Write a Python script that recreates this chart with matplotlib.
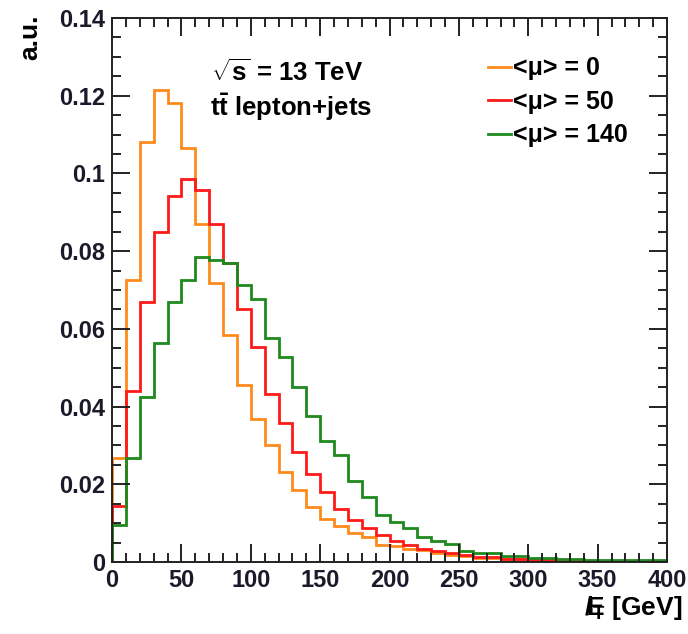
import numpy as np
import matplotlib
matplotlib.use("Agg")
import matplotlib.pyplot as plt
from matplotlib.ticker import MultipleLocator, FixedLocator, FixedFormatter

plt.rcParams['font.family'] = ['Liberation Sans', 'DejaVu Sans']
plt.rcParams['font.weight'] = 'bold'
plt.rcParams['mathtext.fontset'] = 'custom'
plt.rcParams['mathtext.rm'] = 'Liberation Sans:bold'
plt.rcParams['mathtext.it'] = 'Liberation Sans:bold'
plt.rcParams['mathtext.bf'] = 'Liberation Sans:bold'

# ビンの境界 (10 GeV 刻み, 0-400 GeV)
bin_edges = np.arange(0, 410, 10)

# <mu> = 0
mu0 = [0.0267, 0.0727, 0.108, 0.1215, 0.118, 0.1065, 0.087, 0.0719, 0.0584, 0.0455,
       0.0367, 0.0301, 0.0232, 0.0185, 0.0142, 0.011, 0.0093, 0.0074, 0.0065, 0.0044,
       0.0041, 0.0033, 0.0030, 0.0023, 0.0019, 0.0016, 0.0011, 0.0011, 0.0007, 0.0007,
       0.0004, 0.0003, 0.0003, 0.0002, 0.0002, 0.0001, 0.0001, 0.0001, 0.0001, 0.0]
# <mu> = 50
mu50 = [0.0145, 0.0441, 0.067, 0.085, 0.0942, 0.0985, 0.0957, 0.087, 0.077, 0.065,
        0.0554, 0.0432, 0.0357, 0.0284, 0.0226, 0.0181, 0.0136, 0.0108, 0.0087, 0.0069,
        0.0055, 0.0044, 0.0033, 0.0029, 0.0022, 0.0018, 0.0013, 0.0013, 0.0009, 0.0009,
        0.0005, 0.0005, 0.0003, 0.0003, 0.0002, 0.0003, 0.0001, 0.0001, 0.0001, 0.0001]
# <mu> = 140
mu140 = [0.0095, 0.0267, 0.0425, 0.0563, 0.067, 0.0727, 0.0786, 0.0777, 0.0769, 0.0713,
         0.0676, 0.0576, 0.0527, 0.045, 0.0376, 0.0312, 0.0275, 0.0209, 0.0166, 0.0121,
         0.0104, 0.0087, 0.0065, 0.0054, 0.0046, 0.0029, 0.0024, 0.0024, 0.0015, 0.0015,
         0.0011, 0.0011, 0.0009, 0.0009, 0.0005, 0.0005, 0.0004, 0.0004, 0.0004, 0.0004]

labels = ["<μ> = 0", "<μ> = 50", "<μ> = 140"]
colors = ["#ff8a1c", "#ff1a1a", "#1e8a1e"]

y_ticks = [0, 0.02, 0.04, 0.06, 0.08, 0.1, 0.12, 0.14]
y_ticklabels = ["0", "0.02", "0.04", "0.06", "0.08", "0.1", "0.12", "0.14"]

fig = plt.figure(figsize=(6.88, 6.34), dpi=100)
ax = fig.add_axes([112/688, 1-562/634, 555/688, 544/634])

for vals, lab, col in zip([mu0, mu50, mu140], labels, colors):
    ax.stairs(vals, bin_edges, baseline=0, color=col, linewidth=2.0, label=lab)

ax.set_xlim(0, 400)
ax.set_ylim(0, 0.14)

ax.xaxis.set_major_locator(MultipleLocator(50))
ax.xaxis.set_minor_locator(MultipleLocator(10))
ax.yaxis.set_major_locator(FixedLocator(y_ticks))
ax.yaxis.set_major_formatter(FixedFormatter(y_ticklabels))
ax.yaxis.set_minor_locator(MultipleLocator(0.005))

ax.tick_params(which='both', direction='in', top=True, right=True, width=1.4, colors='#222222')
ax.tick_params(which='major', length=13, labelsize=17, pad=5, labelcolor='#1a1a2a')
ax.tick_params(which='minor', length=6.5)
for s in ax.spines.values():
    s.set_linewidth(1.4)
    s.set_color('#222222')

# 軸ラベル
fig.text(30/688, 1-14/634, "a.u.", rotation=90, ha='center', va='top', fontsize=19)
fig.text(682/688, 1-608/634, r"$E\!\!\!\!\!/_{\rm T}$ [GeV]", ha='right', va='center', fontsize=19)

# 注釈
ax.text(0.315, 0.899, r"$\sqrt{\rm s}$ = 13 TeV", transform=ax.transAxes,
        ha='center', va='center', fontsize=18.5)
ax.text(0.322, 0.836, r"t$\bar{\rm t}$ lepton+jets", transform=ax.transAxes,
        ha='center', va='center', fontsize=18.5)

ax.legend(loc='upper left', bbox_to_anchor=(0.66, 0.948), frameon=False,
          fontsize=18, handlelength=0.9, handletextpad=0.1, labelspacing=0.38,
          borderaxespad=0)

fig.savefig("out.png", dpi=100)
